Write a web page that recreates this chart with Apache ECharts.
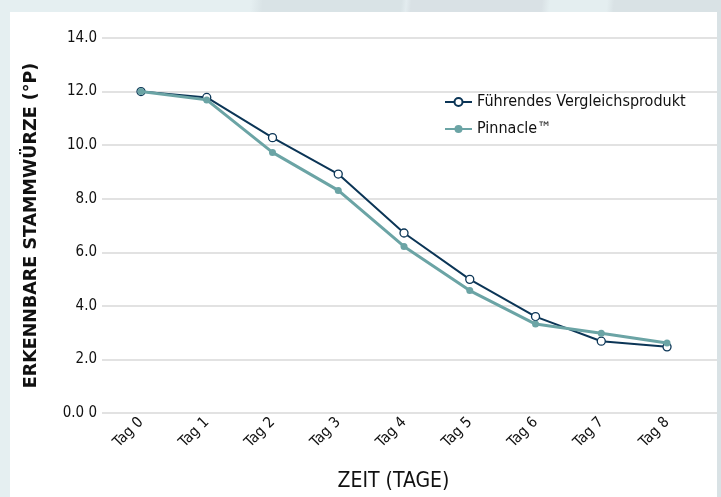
<!DOCTYPE html>
<html>
<head>
<meta charset="utf-8">
<script src="https://cdn.jsdelivr.net/npm/echarts@6/dist/echarts.min.js"></script>
<style>
  html, body { margin: 0; padding: 0; width: 721px; height: 497px; overflow: hidden; }
  body {
    background: linear-gradient(95deg, #e5eff1 0px, #e5eff1 250px, #d9e3e6 262px, #d9e3e6 400px, #e3ecef 405px, #d9e1e5 410px, #d9e1e5 540px, #e4eef0 548px, #e4eef0 605px, #d9e2e5 612px, #d9e2e5 721px);
  }
  #panel { position: absolute; left: 10px; top: 12px; width: 707px; height: 485px; background: #ffffff; }
  #chart { position: absolute; left: 0; top: 0; width: 721px; height: 497px; }
</style>
</head>
<body>
<div id="panel"></div>
<div id="chart"></div>
<script>
const categories = ['Tag 0', 'Tag 1', 'Tag 2', 'Tag 3', 'Tag 4', 'Tag 5', 'Tag 6', 'Tag 7', 'Tag 8'];
const leadingProduct = [12.0, 11.78, 10.28, 8.92, 6.72, 4.99, 3.6, 2.68, 2.47];
const pinnacle = [12.0, 11.69, 9.73, 8.31, 6.22, 4.57, 3.32, 2.98, 2.61];
const yTicks = [0, 2, 4, 6, 8, 10, 12, 14];
const seriesNames = ['Führendes Vergleichsprodukt', 'Pinnacle™'];

const narrow = "'Liberation Sans Narrow', 'DejaVu Sans Condensed', 'Roboto', sans-serif";
const chart = echarts.init(document.getElementById('chart'), null, { renderer: 'canvas' });

chart.setOption({
  backgroundColor: 'transparent',
  animation: false,
  grid: { left: 102, right: 4, top: 38, bottom: 84, containLabel: false, outerBoundsMode: 'none' },
  legend: {
    orient: 'vertical',
    left: 444,
    top: 94,
    padding: 0,
    itemWidth: 27,
    itemHeight: 10,
    itemGap: 11,
    textStyle: { fontFamily: narrow, fontSize: 16, color: '#111111' },
    data: seriesNames
  },
  xAxis: {
    type: 'value',
    min: -0.593,
    max: 8.76,
    axisLine: { show: false },
    axisTick: { show: false },
    splitLine: { show: false },
    axisLabel: {
      customValues: categories.map((c, i) => i),
      formatter: v => categories[Math.round(v)],
      rotate: 45,
      margin: 7,
      fontFamily: narrow,
      fontSize: 15,
      color: '#111111'
    },
    name: 'ZEIT (TAGE)',
    nameLocation: 'middle',
    nameGap: 58,
    nameTextStyle: { fontFamily: narrow, fontSize: 21, color: '#111111', padding: [0, 32, 0, 0] }
  },
  yAxis: {
    type: 'value',
    min: yTicks[0],
    max: yTicks[yTicks.length - 1],
    interval: 2,
    axisLine: { show: false },
    axisTick: { show: false },
    splitLine: { lineStyle: { color: '#d9d9d9', width: 1.5 } },
    axisLabel: {
      formatter: v => (v === 0 ? '0.0 0' : v.toFixed(1)),
      margin: 5,
      fontFamily: narrow,
      fontSize: 15,
      color: '#111111'
    },
    name: 'ERKENNBARE STAMMWÜRZE (°P)',
    nameLocation: 'middle',
    nameGap: 62,
    nameTextStyle: { fontFamily: "'DejaVu Sans', sans-serif", fontWeight: 'bold', fontSize: 17.5, color: '#111111' }
  },
  series: [
    {
      name: seriesNames[0],
      type: 'line',
      data: leadingProduct.map((v, i) => [i, v]),
      symbol: 'circle',
      symbolSize: 8,
      lineStyle: { color: '#0b3556', width: 2 },
      itemStyle: { color: '#ffffff', borderColor: '#0b3556', borderWidth: 1.3 },
      z: 2
    },
    {
      name: seriesNames[1],
      type: 'line',
      data: pinnacle.map((v, i) => [i, v]),
      symbol: 'circle',
      symbolSize: 7,
      lineStyle: { color: '#6ba4a5', width: 3 },
      itemStyle: { color: '#6ba4a5', borderColor: '#6ba4a5', borderWidth: 0 },
      z: 3
    }
  ]
});
</script>
</body>
</html>
